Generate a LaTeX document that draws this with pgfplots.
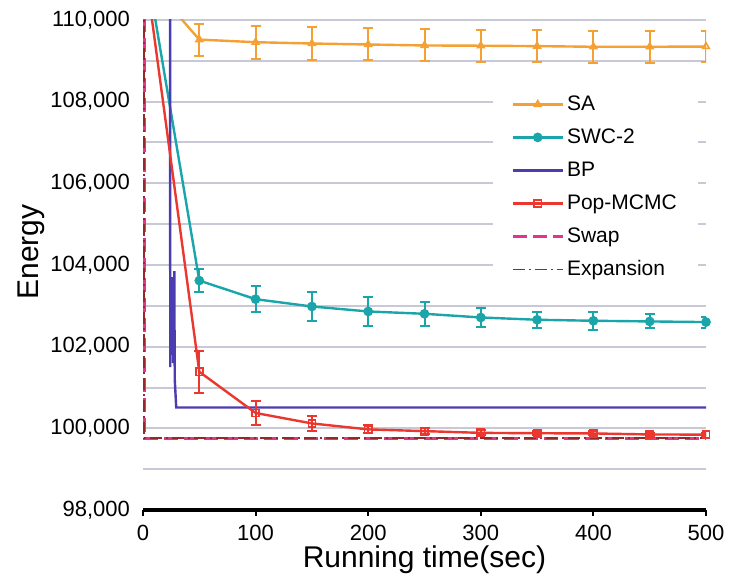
\documentclass[border=0pt]{standalone}
\usepackage{fontspec}
\setmainfont{Liberation Sans}
\usepackage{pgfplots}
\pgfplotsset{compat=1.18}

\definecolor{saorange}{RGB}{245,160,50}
\definecolor{swcteal}{RGB}{25,165,170}
\definecolor{bpblue}{RGB}{75,60,175}
\definecolor{popred}{RGB}{235,55,45}
\definecolor{swappink}{RGB}{230,50,140}
\definecolor{expred}{RGB}{150,40,40}
\definecolor{gridgray}{RGB}{200,200,215}

\begin{document}
\begin{tikzpicture}
\begin{axis}[
  scale only axis, width=281.5pt, height=245pt,
  xmin=0, xmax=500, ymin=98000, ymax=110000,
  xtick={0,100,...,500},
  ytick={98000,100000,...,110000},
  minor ytick={99000,101000,...,109000},
  ymajorgrids, yminorgrids,
  major grid style={gridgray, line width=1pt},
  minor grid style={gridgray, line width=1pt},
  separate axis lines,
  axis x line*=bottom, axis y line*=left,
  x axis line style={black, line width=2pt},
  y axis line style={draw=none},
  tick align=outside,
  ytick style={draw=none},
  xtick style={black, line width=1pt},
  major tick length=3pt,
  scaled y ticks=false,
  /pgf/number format/assume math mode=true,
  yticklabel style={/pgf/number format/.cd, fixed, 1000 sep={,}},
  tick label style={font=\fontsize{11}{13}\selectfont},
  xticklabel style={yshift=-1pt},
  xlabel={Running time(sec)},
  ylabel={Energy},
  xlabel style={at={(axis description cs:0.5,0)}, anchor=base, yshift=-28.5pt, font=\fontsize{15}{17}\selectfont},
  ylabel style={at={(axis description cs:-0.199,0.5265)}, anchor=center, font=\fontsize{15}{17}\selectfont},
  legend style={at={(rel axis cs:0.6217,0.8796)}, anchor=north west, draw=none, fill=white,
    font=\fontsize{10.5}{12}\selectfont, inner xsep=9pt, inner ysep=6pt, row sep=3.5pt,
    nodes={text height=8pt, text depth=2pt, inner sep=1.5pt}},
  legend cell align=left,
  legend image code/.code={\draw[mark repeat=2,mark phase=2,#1] plot coordinates {(0pt,0pt) (12.5pt,0pt) (25pt,0pt)};},
  every axis plot/.append style={line width=1.2pt},
  error bars/error bar style={line width=1pt},
  error bars/error mark options={rotate=90, mark size=2.5pt, line width=1pt},
]
% SA
\addplot[saorange, mark=triangle, mark size=1.9pt, mark options={solid, fill=white, line width=0.8pt},
  error bars/.cd, y dir=both, y explicit] coordinates {
  (0,111100) +- (0,0)
  (50,109520) +- (0,390)
  (100,109456) +- (0,400)
  (150,109424) +- (0,400)
  (200,109400) +- (0,392)
  (250,109376) +- (0,392)
  (300,109370) +- (0,392)
  (350,109360) +- (0,400)
  (400,109344) +- (0,390)
  (450,109344) +- (0,390)
  (500,109350) +- (0,390)
};
\addlegendentry{SA}
% SWC-2
\addplot[swcteal, mark=*, mark size=1.8pt, mark options={solid},
  error bars/.cd, y dir=both, y explicit] coordinates {
  (0,111800) +- (0,0)
  (50,103618) +- (0,285)
  (100,103163) +- (0,321)
  (150,102984) +- (0,345)
  (200,102862) +- (0,345)
  (250,102805) +- (0,293)
  (300,102715) +- (0,244)
  (350,102659) +- (0,195)
  (400,102634) +- (0,215)
  (450,102618) +- (0,171)
  (500,102602) +- (0,134)
};
\addlegendentry{SWC-2}
% BP
\addplot[bpblue] coordinates {
  (24,112000) (24.2,101500) (25,103400) (25.5,101800) (26.5,103700) (27,101600)
  (27.8,103850) (28.2,101200) (29.5,100510) (500,100510)
};
\addlegendentry{BP}
% Pop-MCMC
\addplot[popred, mark=square, mark size=1.8pt, mark options={solid, fill=white, line width=0.8pt},
  error bars/.cd, y dir=both, y explicit] coordinates {
  (0,111650) +- (0,0)
  (50,101385) +- (0,510)
  (100,100376) +- (0,300)
  (150,100120) +- (0,180)
  (200,99974) +- (0,100)
  (250,99932) +- (0,70)
  (300,99889) +- (0,60)
  (350,99880) +- (0,50)
  (400,99875) +- (0,50)
  (450,99850) +- (0,40)
  (500,99846) +- (0,40)
};
\addlegendentry{Pop-MCMC}
% Swap
\addplot[swappink, line width=1.3pt, dash pattern=on 7pt off 3pt] coordinates {
  (1.5,112000) (1.5,99750) (500,99750)
};
\addlegendentry{Swap}
% Expansion
\addplot[expred, line width=0.9pt, dash pattern=on 6pt off 2pt on 1pt off 2pt] coordinates {
  (1.2,112000) (1.2,99755) (500,99755)
};
\addlegendentry{Expansion}
\end{axis}
\pgfresetboundingbox
\useasboundingbox ([shift={(-71.5pt,-36pt)}]current axis.south west) rectangle ([shift={(11.5pt,10pt)}]current axis.north east);
\end{tikzpicture}
\end{document}
